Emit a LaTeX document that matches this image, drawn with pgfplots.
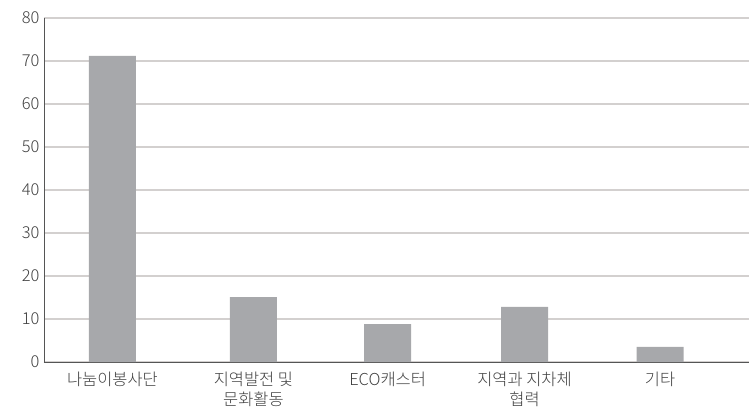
\documentclass[border=0pt]{standalone}
\usepackage{pgfplots}
\pgfplotsset{compat=1.18}
\usepackage{fontspec}
\setmainfont{Noto Sans CJK KR}[UprightFont={* Light}]
\definecolor{barc}{HTML}{A7A8AB}
\definecolor{gridc}{HTML}{D3D0CF}
\definecolor{axc}{HTML}{555555}
\begin{document}
\begin{tikzpicture}
\begin{axis}[
  scale only axis,
  width=705bp, height=344bp,
  xmin=-0.5, xmax=4.65,
  ymin=0, ymax=80,
  ytick={0,10,...,80},
  xtick={0,1.03,2.01,3.01,4},
  xticklabels={나눔이봉사단, {지역발전 및\\문화활동}, ECO캐스터, {지역과 지차체\\협력}, 기타},
  xticklabel style={align=center, text depth=0pt, yshift=-6bp},
  yticklabel style={xshift=-1bp},
  axis lines=left,
  axis line style={axc, line width=1pt, -},
  major tick length=0pt,
  ymajorgrids,
  grid style={gridc, line width=1.2pt},
  tick label style={font=\fontsize{16.5}{21}\selectfont, text=black!75},
  /pgf/number format/assume math mode=true,
]
\addplot[ybar, bar width=47bp, fill=barc, draw=none] coordinates {
  (0,71.2) (1.03,15.1) (2.01,8.8) (3.01,12.8) (4,3.5)
};
\end{axis}
\pgfresetboundingbox
\path[use as bounding box] ([xshift=-44bp,yshift=-51bp]current axis.south west) rectangle ([yshift=18bp]current axis.north east);
\end{tikzpicture}
\end{document}
